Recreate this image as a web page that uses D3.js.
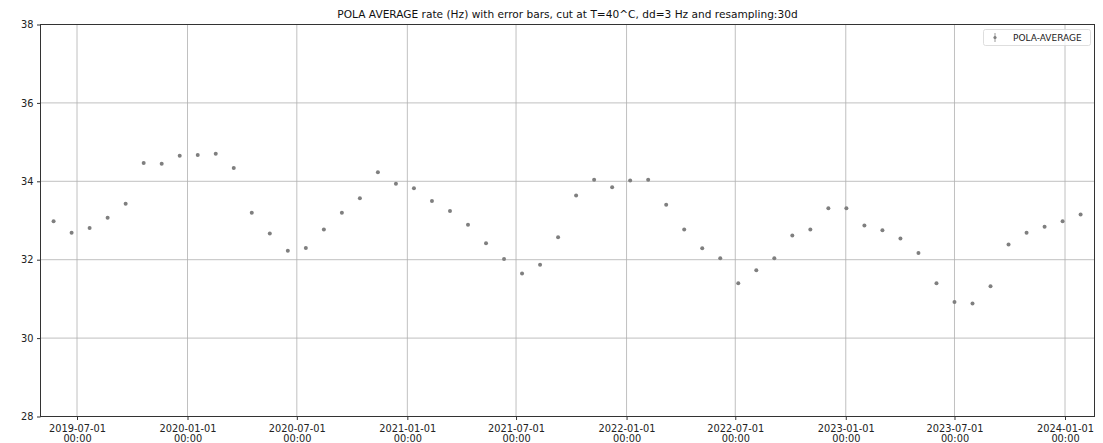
<!DOCTYPE html>
<html>
<head>
<meta charset="utf-8">
<script src="https://cdn.jsdelivr.net/npm/d3@7"></script>
<style>
  html, body { margin: 0; padding: 0; background: #fff; }
  svg { display: block; font-family: "DejaVu Sans", sans-serif; }
</style>
</head>
<body>
<svg id="chart" width="1103" height="443"></svg>
<script>
// 30-day resampled bins (bin start dates)
const dates = [
  "2019-05-23","2019-06-22","2019-07-22","2019-08-21","2019-09-20","2019-10-20",
  "2019-11-19","2019-12-19","2020-01-18","2020-02-17","2020-03-18","2020-04-17",
  "2020-05-17","2020-06-16","2020-07-16","2020-08-15","2020-09-14","2020-10-14",
  "2020-11-13","2020-12-13","2021-01-12","2021-02-11","2021-03-13","2021-04-12",
  "2021-05-12","2021-06-11","2021-07-11","2021-08-10","2021-09-09","2021-10-09",
  "2021-11-08","2021-12-08","2022-01-07","2022-02-06","2022-03-08","2022-04-07",
  "2022-05-07","2022-06-06","2022-07-06","2022-08-05","2022-09-04","2022-10-04",
  "2022-11-03","2022-12-03","2023-01-02","2023-02-01","2023-03-03","2023-04-02",
  "2023-05-02","2023-06-01","2023-07-01","2023-07-31","2023-08-30","2023-09-29",
  "2023-10-29","2023-11-28","2023-12-28","2024-01-27"
];

// POLA average rate (Hz) per bin
const polaAverage = [
  32.98, 32.69, 32.81, 33.07, 33.43, 34.47, 34.45, 34.65, 34.67, 34.70,
  34.34, 33.20, 32.67, 32.23, 32.30, 32.77, 33.20, 33.57, 34.23, 33.94,
  33.82, 33.50, 33.24, 32.89, 32.42, 32.02, 31.65, 31.87, 32.57, 33.64,
  34.04, 33.85, 34.02, 34.04, 33.40, 32.77, 32.29, 32.04, 31.40, 31.73,
  32.04, 32.62, 32.77, 33.31, 33.31, 32.87, 32.75, 32.54, 32.17, 31.40,
  30.92, 30.88, 31.32, 32.39, 32.69, 32.84, 32.98, 33.15
];

const yTicks = [28, 30, 32, 34, 36, 38];
const xTickDates = [
  "2019-07-01","2020-01-01","2020-07-01","2021-01-01","2021-07-01",
  "2022-01-01","2022-07-01","2023-01-01","2023-07-01","2024-01-01"
];
const seriesName = "POLA-AVERAGE";
const titleText = "POLA AVERAGE rate (Hz) with error bars, cut at T=40^C, dd=3 Hz and resampling:30d";

const parse = d3.utcParse("%Y-%m-%d");
const data = dates.map((d, i) => ({ date: parse(d), value: polaAverage[i] }));

const svg = d3.select("#chart");
const plot = { left: 40.5, right: 1094.5, top: 24.5, bottom: 416.5 };

// time scale: 2019-07-01 sits at x=77 and 2024-01-01 at x=1065
const x0 = parse("2019-07-01"), x1 = parse("2024-01-01");
const pxPerMs = (1065 - 77) / (x1 - x0);
const x = d3.scaleUtc()
  .domain([new Date(+x0 - (77 - plot.left) / pxPerMs), new Date(+x0 + (plot.right - 77) / pxPerMs)])
  .range([plot.left, plot.right]);

const y = d3.scaleLinear().domain([28, 38]).range([plot.bottom, plot.top]);

const gridColor = "#b0b0b0";
const axisColor = "#333";
const textColor = "#222";

// grid
const grid = svg.append("g");
grid.selectAll(".gx").data(xTickDates).join("line")
  .attr("x1", d => x(parse(d))).attr("x2", d => x(parse(d)))
  .attr("y1", plot.top).attr("y2", plot.bottom)
  .attr("stroke", gridColor).attr("stroke-width", 0.8);
grid.selectAll(".gy").data(yTicks).join("line")
  .attr("x1", plot.left).attr("x2", plot.right)
  .attr("y1", d => y(d)).attr("y2", d => y(d))
  .attr("stroke", gridColor).attr("stroke-width", 0.8);

// y axis
const yAxis = svg.append("g")
  .attr("transform", `translate(${plot.left},0)`)
  .call(d3.axisLeft(y).tickValues(yTicks).tickSize(3.5).tickPadding(3.5).tickFormat(d3.format("d")));
yAxis.select(".domain").remove();
yAxis.selectAll("line").attr("stroke", axisColor);
yAxis.selectAll("text").attr("font-size", 9.8).attr("fill", textColor)
  .attr("font-family", "DejaVu Sans");

// x axis: two-line date labels
const xAxis = svg.append("g")
  .attr("transform", `translate(0,${plot.bottom})`)
  .call(d3.axisBottom(x).tickValues(xTickDates.map(parse)).tickSize(3.5).tickFormat(() => ""));
xAxis.select(".domain").remove();
xAxis.selectAll("line").attr("stroke", axisColor);
xAxis.selectAll(".tick").each(function (d) {
  const t = d3.select(this).select("text")
    .attr("font-size", 9.8).attr("fill", textColor)
    .attr("font-family", "DejaVu Sans").attr("y", 0).attr("dy", null);
  t.append("tspan").attr("x", 0).attr("y", 15).text(d3.utcFormat("%Y-%m-%d")(d));
  t.append("tspan").attr("x", 0).attr("y", 25.5).text(d3.utcFormat("%H:%M")(d));
});

// frame
svg.append("rect")
  .attr("x", plot.left).attr("y", plot.top)
  .attr("width", plot.right - plot.left).attr("height", plot.bottom - plot.top)
  .attr("fill", "none").attr("stroke", axisColor).attr("stroke-width", 1);

// points
svg.append("g").selectAll("circle").data(data).join("circle")
  .attr("cx", d => x(d.date)).attr("cy", d => y(d.value))
  .attr("r", 2).attr("fill", "#7f7f7f");

// title
svg.append("text")
  .attr("x", (plot.left + plot.right) / 2).attr("y", 18)
  .attr("text-anchor", "middle").attr("font-size", 10.6).attr("fill", "#111")
  .text(titleText);

// legend
const lg = svg.append("g");
lg.append("rect")
  .attr("x", 983.5).attr("y", 29.5).attr("width", 107).attr("height", 16)
  .attr("rx", 2).attr("fill", "#fff").attr("fill-opacity", 0.8)
  .attr("stroke", "#d6d6d6").attr("stroke-width", 0.8);
lg.append("line")
  .attr("x1", 995).attr("x2", 995).attr("y1", 33).attr("y2", 42)
  .attr("stroke", "#7f7f7f").attr("stroke-width", 0.8);
lg.append("circle").attr("cx", 995).attr("cy", 37.5).attr("r", 1.6).attr("fill", "#7f7f7f");
lg.append("text")
  .attr("x", 1013).attr("y", 41).attr("font-size", 9).attr("fill", textColor)
  .text(seriesName);
</script>
</body>
</html>
